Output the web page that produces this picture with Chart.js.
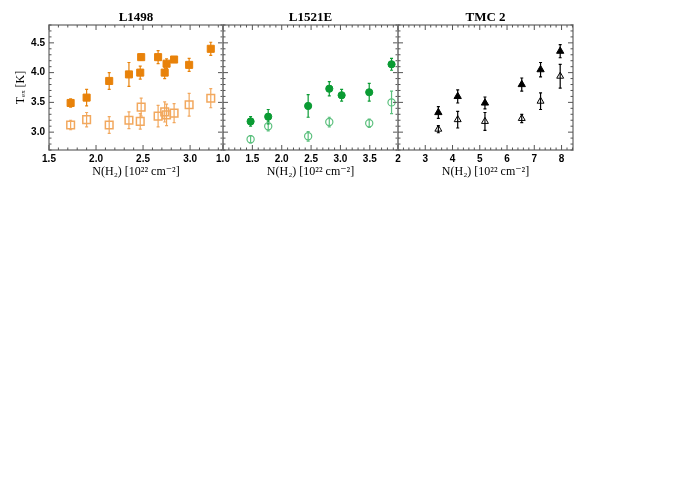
<!DOCTYPE html>
<html lang="en">
<head>
  <meta charset="UTF-8">
  <title>Tex versus N(H2) in L1498, L1521E and TMC 2</title>
  <script src="https://cdn.jsdelivr.net/npm/chart.js"></script>
  <style>
    body { margin: 0; background: #fff; }
    #wrap { position: relative; width: 700px; height: 500px; }
    #wrap canvas { position: absolute; left: 0; top: 0; }
  </style>
</head>
<body>
<div id="wrap">
  <canvas id="c1" width="700" height="180"></canvas>
  <canvas id="c2" width="700" height="180"></canvas>
  <canvas id="c3" width="700" height="180"></canvas>
</div>
<script>
  // ---- data ----
  // L1498
  const l1498N         = [1.73, 1.90, 2.14, 2.35, 2.47, 2.48, 2.66, 2.75, 2.73, 2.83, 2.99, 3.22];
  const l1498Filled    = [3.49, 3.58, 3.86, 3.97, 4.00, 4.26, 4.26, 4.15, 4.00, 4.22, 4.13, 4.40];
  const l1498FilledErr = [0.07, 0.14, 0.14, 0.20, 0.11, 0.05, 0.11, 0.08, 0.10, 0.05, 0.11, 0.11];
  const l1498Open      = [3.12, 3.21, 3.12, 3.20, 3.18, 3.42, 3.27, 3.29, 3.34, 3.32, 3.46, 3.57];
  const l1498OpenErr   = [0.08, 0.12, 0.14, 0.14, 0.13, 0.15, 0.18, 0.18, 0.17, 0.16, 0.19, 0.16];
  const l1498XTicks    = [1.5, 2.0, 2.5, 3.0];

  // L1521E
  const l1521eN         = [1.47, 1.77, 2.45, 2.81, 3.02, 3.49, 3.87];
  const l1521eFilled    = [3.18, 3.26, 3.44, 3.73, 3.62, 3.67, 4.14];
  const l1521eFilledErr = [0.08, 0.12, 0.19, 0.12, 0.10, 0.15, 0.10];
  const l1521eOpen      = [2.88, 3.10, 2.93, 3.17, null, 3.15, 3.50];
  const l1521eOpenErr   = [0.06, 0.08, 0.08, 0.08, null, 0.07, 0.19];
  const l1521eXTicks    = [1.0, 1.5, 2.0, 2.5, 3.0, 3.5];

  // TMC 2
  const tmc2N         = [3.48, 4.19, 5.19, 6.54, 7.23, 7.95];
  const tmc2Filled    = [3.33, 3.60, 3.49, 3.80, 4.05, 4.36];
  const tmc2FilledErr = [0.10, 0.11, 0.10, 0.11, 0.12, 0.11];
  const tmc2Open      = [3.05, 3.21, 3.18, 3.23, 3.52, 3.94];
  const tmc2OpenErr   = [0.06, 0.14, 0.15, 0.07, 0.14, 0.20];
  const tmc2XTicks    = [2, 3, 4, 5, 6, 7, 8];

  const yTicks = [3.0, 3.5, 4.0, 4.5];

  const tickFont = { family: "'Liberation Sans', Arial, sans-serif", size: 10, weight: 'bold' };
  const serifFont = "'Liberation Serif', 'DejaVu Serif', serif";

  // pair arrays into points, dropping gaps
  function points(xs, ys, errs) {
    const out = [];
    xs.forEach((x, i) => {
      if (ys[i] !== null) out.push({ x: x, y: ys[i], e: errs[i] });
    });
    return out;
  }

  // vertical error bars with small caps, under the markers
  const errorBars = {
    id: 'errorBars',
    beforeDatasetsDraw(chart) {
      const ctx = chart.ctx, xs = chart.scales.x, ys = chart.scales.y;
      chart.data.datasets.forEach(ds => {
        ctx.save();
        ctx.strokeStyle = ds.errColor;
        ctx.lineWidth = 1.2;
        ds.data.forEach(p => {
          const px = xs.getPixelForValue(p.x);
          const y0 = ys.getPixelForValue(p.y - p.e);
          const y1 = ys.getPixelForValue(p.y + p.e);
          ctx.beginPath();
          ctx.moveTo(px, y0); ctx.lineTo(px, y1);
          ctx.moveTo(px - 1.5, y0); ctx.lineTo(px + 1.5, y0);
          ctx.moveTo(px - 1.5, y1); ctx.lineTo(px + 1.5, y1);
          ctx.stroke();
        });
        ctx.restore();
      });
    }
  };

  // IDL-like box with inward major/minor ticks on all four sides
  const frameTicks = {
    id: 'frameTicks',
    afterDraw(chart, args, opts) {
      const ctx = chart.ctx, a = chart.chartArea;
      const xs = chart.scales.x, ys = chart.scales.y;
      ctx.save();
      ctx.strokeStyle = '#8a8a8a';
      ctx.lineWidth = 1.6;
      ctx.strokeRect(a.left, a.top, a.right - a.left, a.bottom - a.top);

      ctx.strokeStyle = '#555';
      ctx.lineWidth = 1;
      function each(scale, step, fn) {
        const start = Math.ceil(scale.min / step - 1e-6);
        for (let k = start; k * step <= scale.max + 1e-9; k++) {
          const v = k * step;
          const major = Math.abs(v / (step * 5) - Math.round(v / (step * 5))) < 1e-6;
          fn(scale.getPixelForValue(v), major ? 5 : 2.5);
        }
      }
      ctx.beginPath();
      each(xs, opts.xMinor, (px, len) => {
        ctx.moveTo(px, a.bottom); ctx.lineTo(px, a.bottom - len);
        ctx.moveTo(px, a.top); ctx.lineTo(px, a.top + len);
      });
      each(ys, 0.1, (py, len) => {
        ctx.moveTo(a.left, py); ctx.lineTo(a.left + len, py);
        ctx.moveTo(a.right, py); ctx.lineTo(a.right - len, py);
      });
      ctx.stroke();
      ctx.restore();
    }
  };

  function makePanel(id, cfg) {
    const ctx = document.getElementById(id).getContext('2d');
    return new Chart(ctx, {
      type: 'scatter',
      data: {
        datasets: [
          {
            data: points(cfg.n, cfg.open, cfg.openErr),
            pointStyle: cfg.style,
            pointRadius: cfg.openRadius,
            backgroundColor: 'rgba(0,0,0,0)',
            borderColor: cfg.openColor,
            borderWidth: cfg.openWidth,
            errColor: cfg.openColor
          },
          {
            data: points(cfg.n, cfg.filled, cfg.filledErr),
            pointStyle: cfg.style,
            pointRadius: cfg.filledRadius,
            backgroundColor: cfg.filledColor,
            borderColor: cfg.filledColor,
            borderWidth: 1,
            errColor: cfg.filledColor
          }
        ]
      },
      options: {
        responsive: false,
        animation: false,
        layout: { padding: { left: cfg.padLeft, right: 700 - cfg.right, top: 0, bottom: 0 } },
        plugins: {
          legend: { display: false },
          tooltip: { enabled: false },
          title: {
            display: true,
            text: cfg.title,
            fullSize: false,
            color: '#000',
            font: { family: serifFont, size: 13, weight: 'bold' },
            padding: { top: 9.4, bottom: 0 }
          },
          frameTicks: { xMinor: cfg.xMinor }
        },
        scales: {
          x: {
            type: 'linear',
            min: cfg.xMin,
            max: cfg.xMax,
            grid: { display: false, drawTicks: false },
            border: { display: false },
            afterBuildTicks: s => { s.ticks = cfg.xTicks.map(v => ({ value: v })); },
            afterFit: s => { s.height = 30; s.paddingLeft = 0; s.paddingRight = 0; },
            ticks: {
              autoSkip: false, maxRotation: 0, padding: 3,
              color: '#000', font: tickFont,
              callback: v => cfg.xDigits ? v.toFixed(cfg.xDigits) : String(v)
            },
            title: {
              display: true,
              text: 'N(H\u2082) [10\u00b2\u00b2 cm\u207b\u00b2]',
              color: '#000',
              font: { family: serifFont, size: 12 },
              padding: { top: 0, bottom: 1 }
            }
          },
          y: {
            type: 'linear',
            min: 2.7,
            max: 4.8,
            display: cfg.showY,
            grid: { display: false, drawTicks: false },
            border: { display: false },
            afterBuildTicks: s => { s.ticks = yTicks.map(v => ({ value: v })); },
            afterFit: s => { s.width = cfg.showY ? 49 : 0; s.paddingTop = 0; s.paddingBottom = 0; },
            ticks: {
              autoSkip: false, padding: 4,
              color: '#000', font: tickFont,
              callback: v => v.toFixed(1)
            },
            title: {
              display: true,
              text: 'T\u2091\u2093 [K]',
              color: '#000',
              font: { family: serifFont, size: 12 },
              padding: { top: 14, bottom: 0 }
            }
          }
        }
      },
      plugins: [errorBars, frameTicks]
    });
  }

  makePanel('c1', {
    title: 'L1498', n: l1498N,
    filled: l1498Filled, filledErr: l1498FilledErr, open: l1498Open, openErr: l1498OpenErr,
    xTicks: l1498XTicks, xMin: 1.5, xMax: 3.35, xDigits: 1, xMinor: 0.1,
    style: 'rect', filledRadius: 5, openRadius: 5.4, openWidth: 1.5,
    filledColor: '#e8820a', openColor: '#f2a85e',
    padLeft: 0, right: 223, showY: true
  });

  makePanel('c2', {
    title: 'L1521E', n: l1521eN,
    filled: l1521eFilled, filledErr: l1521eFilledErr, open: l1521eOpen, openErr: l1521eOpenErr,
    xTicks: l1521eXTicks, xMin: 1.0, xMax: 3.98, xDigits: 1, xMinor: 0.1,
    style: 'circle', filledRadius: 3.6, openRadius: 3.6, openWidth: 1.2,
    filledColor: '#0a9b33', openColor: '#5cc07e',
    padLeft: 223, right: 398, showY: false
  });

  makePanel('c3', {
    title: 'TMC 2', n: tmc2N,
    filled: tmc2Filled, filledErr: tmc2FilledErr, open: tmc2Open, openErr: tmc2OpenErr,
    xTicks: tmc2XTicks, xMin: 2, xMax: 8.42, xDigits: 0, xMinor: 0.2,
    style: 'triangle', filledRadius: 4.2, openRadius: 4, openWidth: 1,
    filledColor: '#000000', openColor: '#000000',
    padLeft: 398, right: 573, showY: false
  });
</script>
</body>
</html>
